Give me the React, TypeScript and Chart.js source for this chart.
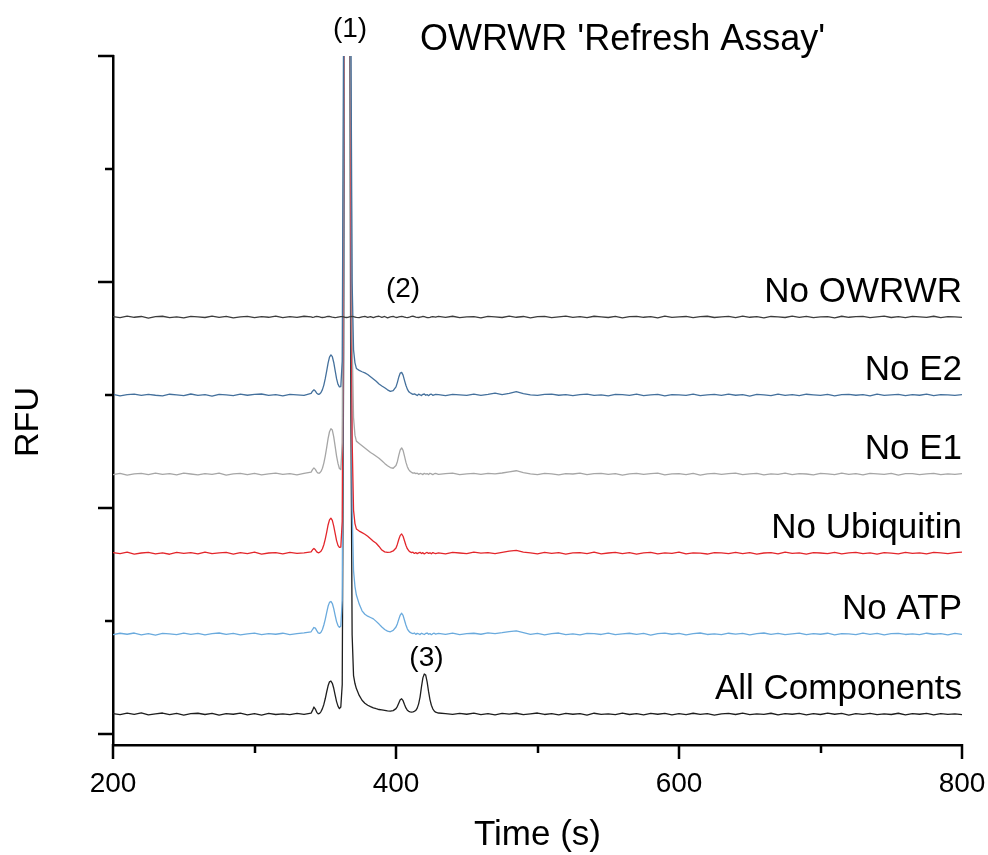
import React, { useEffect, useRef } from "react";
import { Chart, registerables } from "chart.js";

Chart.register(...registerables);

// Migration time (s) of each sample point
const TIME = [
  200, 205, 210, 215, 220, 225, 230, 235, 240, 245, 250, 255, 260, 265, 270, 275, 280, 285, 290, 295, 300, 305, 310, 315, 320, 325, 330, 335, 340,
  341, 342, 343, 344, 345, 346, 347, 348, 349, 350, 351, 352, 353, 354, 355, 356, 357, 358, 359, 360, 361, 362, 363, 364, 365, 366, 367, 368, 369, 370, 371, 372,
  374, 376, 378, 380, 382, 384, 386, 388, 390, 392, 394, 396, 398, 400,
  401, 402, 403, 404, 405, 406, 407, 408, 409, 410, 411, 412, 413, 414, 415, 416, 417, 418, 419, 420, 421, 422, 423, 424, 425, 426, 427, 428,
  430, 435, 440, 445, 450, 455, 460, 465, 470, 475, 480, 485, 490, 495, 500, 505, 510, 515, 520, 525, 530, 535, 540, 545, 550, 555, 560, 565, 570, 575,
  580, 585, 590, 595, 600, 605, 610, 615, 620, 625, 630, 635, 640, 645, 650, 655, 660, 665, 670, 675, 680, 685, 690, 695, 700, 705, 710, 715, 720, 725,
  730, 735, 740, 745, 750, 755, 760, 765, 770, 775, 780, 785, 790, 795, 800,
];

// Fluorescence signal of each run (mRFU above its own baseline)
const NO_OWRWR = [
  3, -6, 8, -2, 5, -9, 4, 7, -5, 2, -7, 6, 1, -4, 9, -3, 5, -8, 2, 6, -5, 3, -2, 8, -6, 4, -3, 7, 1,
  -2, 0, 3, 5, 4, 1, -2, -4, -3, 0, 3, 6, 5, 2, -1, -3, -5, -3, 0, 2, 4, 3, 1, -2, -4, -2, 1, 4, 6, 3, 0, -3,
  -5, 2, 6, -3, 4, -6, 3, 7, -2, 5, -7, 2, 6, -4,
  -2, 1, 4, 6, 3, 0, -3, -5, -2, 1, 5, 7, 4, 0, -3, -4, -1, 2, 5, 3, -1, -4, -6, -3, 1, 4, 2, -1,
  5, -3, 7, -6, 2, 4, -8, 6, 1, -4, 8, -2, 5, -7, 3, 6, -5, 2, 9, -3, 4, -6, 7, 1, -4, 5, -8, 3, 6, -2,
  4, -7, 8, -3, 2, 5, -6, 3, 7, -4, 1, 6, -5, 8, -2, 3, -7, 5, 2, -4, 9, -3, 6, -5, 1, 4, -8, 7, -2, 3,
  5, -6, 2, 8, -4, 3, -5, 6, 1, -3, 7, -6, 4, 2, -3,
];

const NO_E2 = [
  5, -7, 3, 8, -4, 6, -2, -8, 7, 2, -5, 9, -3, 4, -9, 6, 1, -6, 8, -2, 5, 9, -4, 3, -7, 6, 2, -3, 14,
  34, 46, 35, 16, 6, 9, 22, 48, 88, 145, 212, 282, 335, 355, 340, 288, 215, 145, 95, 72, 75, 300, 3400, 9200, 12000, 11800, 9000, 3500, 1000, 400, 285, 235,
  218, 206, 196, 182, 162, 142, 122, 98, 80, 64, 46, 32, 38, 72,
  112, 160, 194, 200, 176, 130, 86, 52, 30, 20, 12, 6, 10, 3, -4, 7, 2, -5, 6, 9, -2, 4, -6, 5, 8, -3, 2, 6,
  3, -5, 6, 2, -3, 8, -4, 5, 16, 4, 14, 30, 12, 2, -4, 5, 7, -2, 3, -6, 4, 8, -3, 2, -7, 5, 3, -4, 7, -5,
  2, 6, -8, 4, 1, -3, 8, -6, 2, 5, -4, 7, -2, 3, -9, 6, 2, -5, 8, -3, 4, -6, 7, 1, -4, 5, -8, 3, 6, -2,
  4, -7, 8, -3, 2, 6, -5, 3, -2, 7, -6, 4, 2, -4, 3,
];

const NO_E1 = [
  -4, 6, -8, 3, 7, -5, 9, -2, 4, -7, 8, 1, -6, 5, -3, 9, -8, 2, 6, -4, 7, -6, 3, 8, -3, 5, -7, 6, 18,
  40, 55, 42, 20, 8, 10, 24, 52, 98, 160, 235, 315, 375, 402, 390, 330, 245, 160, 95, 50, 40, 280, 3300, 9100, 12000, 11700, 8900, 3600, 1200, 500, 345, 292,
  272, 252, 232, 212, 192, 176, 158, 140, 118, 95, 74, 58, 52, 76,
  112, 168, 215, 232, 210, 160, 106, 66, 40, 24, 16, 9, 12, 5, 8, -2, 6, 3, -4, 7, 1, 5, -3, 8, 2, -5, 4, 6,
  -2, 5, 8, -4, 3, 6, -3, 7, 2, 10, 20, 30, 14, 2, -4, 6, 3, -7, 5, 1, 8, -5, 4, 7, -3, 5, -8, 3, 6, -2,
  4, 9, -6, 2, 5, -4, 7, -8, 3, 6, -3, 4, 9, -5, 2, 7, -6, 3, -2, 8, -4, 5, 1, -7, 6, 3, -5, 8, -2, 4,
  -6, 7, 2, -3, 6, -8, 4, 5, -4, 2, 7, -5, 3, -2, 4,
];

const NO_UBIQUITIN = [
  6, -3, 9, -7, 2, 8, -5, 4, -9, 7, -2, 5, -6, 10, -4, 3, 8, -7, 5, -3, 9, -8, 2, 6, -5, 7, -2, 4, 12,
  30, 42, 30, 12, 4, 8, 18, 40, 75, 125, 185, 250, 295, 310, 290, 240, 175, 112, 70, 52, 55, 280, 3300, 9100, 12000, 11600, 8800, 3400, 1000, 380, 262, 215,
  196, 182, 168, 150, 128, 106, 88, 60, 28, 12, 8, 10, 20, 46,
  80, 124, 158, 170, 150, 110, 70, 40, 22, 12, 5, 9, -2, 6, -4, 3, 8, -3, 5, -6, 2, 7, -1, 4, -5, 6, 1, -3,
  4, -6, 7, 2, -4, 9, 1, 5, -3, 8, 18, 26, 10, 4, -5, 7, -2, 5, -8, 3, 6, -4, 9, -6, 2, 7, -3, 5, -7, 4,
  8, -5, 3, -2, 9, -6, 4, 1, -7, 6, 3, -4, 8, -3, 5, -7, 2, 6, -5, 9, -2, 4, -8, 6, 2, -4, 7, -6, 3, 8,
  -3, 4, -7, 6, 1, -5, 8, -2, 4, -6, 7, 3, -4, 6, 9,
];

const NO_ATP = [
  -5, 7, -2, 9, -7, 4, -9, 6, 1, -6, 8, -3, 5, -8, 3, 9, -4, 6, -7, 2, 8, -5, 4, -2, 7, -6, 3, 10, 20,
  40, 58, 52, 30, 10, 5, 15, 40, 80, 130, 190, 245, 280, 288, 270, 225, 165, 110, 75, 60, 70, 300, 3400, 9200, 12000, 11800, 9000, 3600, 1100, 560, 420, 345,
  265, 205, 175, 158, 146, 134, 112, 88, 62, 40, 26, 20, 32, 62,
  92, 132, 168, 184, 165, 122, 80, 46, 26, 14, 8, 4, 9, -3, 6, 2, -5, 7, 1, -4, 5, 9, -2, 4, -6, 3, 7, -1,
  5, -4, 8, -6, 3, 7, -2, 10, 4, 12, 22, 28, 12, -3, 6, -7, 4, 9, -5, 2, -8, 6, 3, -4, 8, -6, 2, 7, -3, 5,
  -9, 4, 8, -2, 6, -7, 3, 9, -4, 2, -6, 7, -1, 5, -8, 4, 9, -3, 6, -5, 2, 8, -6, 3, -2, 7, -7, 4, 1, -5,
  8, -3, 5, -8, 3, 6, -4, 2, -6, 7, -2, 4, -7, 5, -3,
];

const ALL_COMPONENTS = [
  4, -6, 8, -3, 10, -8, 2, 9, -5, 6, -9, 3, 7, -4, 5, -10, 4, -2, 8, -7, 3, -9, 6, -4, 2, -6, 5, -3, 8,
  32, 62, 44, 15, 2, 6, 22, 48, 85, 135, 195, 250, 285, 292, 272, 228, 168, 110, 70, 48, 62, 260, 3200, 9000, 12000, 11500, 8500, 3000, 700, 340, 270, 225,
  165, 122, 96, 78, 66, 55, 47, 40, 36, 32, 28, 26, 30, 48,
  68, 98, 126, 135, 118, 84, 54, 34, 24, 20, 17, 20, 24, 32, 52, 90, 150, 240, 320, 354, 345, 285, 200, 128, 78, 46, 27, 16,
  9, 4, -3, 6, -2, 8, -5, 3, -7, 5, -1, 7, -6, 2, 9, -4, 3, -8, 6, -2, 4, -9, 7, -3, 2, -6, 8, -4, 3, -7,
  5, -2, 6, -8, 3, -5, 7, -3, 4, -9, 2, 6, -4, 8, -6, 1, -3, 7, -8, 4, -2, 6, -7, 3, -4, 8, -2, 5, -9, 4,
  -3, 6, -6, 2, -4, 7, -8, 3, -2, 5, -7, 4, -3, 2, -5,
];

const TRACES = [NO_OWRWR, NO_E2, NO_E1, NO_UBIQUITIN, NO_ATP, ALL_COMPONENTS];
const TRACE_NAMES = ["No OWRWR", "No E2", "No E1", "No Ubiquitin", "No ATP", "All Components"];
// Vertical stacking offset of each run (mRFU)
const TRACE_OFFSETS = [3690, 3000, 2300, 1600, 885, 177];

const X_TICK_LABELS = [200, 400, 600, 800];
const PEAK_LABELS = ["(1)", "(2)", "(3)"];
const PEAK_TIMES = [367.5, 405, 421.5];

const CHART_TITLE = "OWRWR 'Refresh Assay'";
const X_TITLE = "Time (s)";
const Y_TITLE = "RFU";

// Styling
const TRACE_COLORS = ["#3c3c3c", "#44709c", "#a6a6a6", "#e3262b", "#6aaadd", "#1e1e1e"];
const FONT = "'Liberation Sans', Arial, Helvetica, sans-serif";
const PEAK_LABEL_RFU = [6170, 3870, 600];
const LABEL_LIFT = 135;

const overlayPlugin = {
  id: "overlay",
  afterDraw(chart: any) {
    const { ctx } = chart;
    const xs = chart.scales.x;
    const ys = chart.scales.y;
    const area = chart.chartArea;
    ctx.save();

    // tick marks: long at labelled values, short in between
    ctx.strokeStyle = "#000";
    ctx.lineWidth = 2.5;
    ctx.lineCap = "butt";
    ctx.beginPath();
    for (let v = 200; v <= 800; v += 100) {
      const px = Math.round(xs.getPixelForValue(v));
      const len = v % 200 === 0 ? 14 : 8;
      ctx.moveTo(px, area.bottom - 1);
      ctx.lineTo(px, area.bottom + len);
    }
    for (let v = 0; v <= 6000; v += 1000) {
      const py = Math.round(ys.getPixelForValue(v));
      const len = v % 2000 === 0 ? 15 : 8;
      ctx.moveTo(area.left + 1, py);
      ctx.lineTo(area.left - len, py);
    }
    ctx.stroke();

    ctx.fillStyle = "#000";
    ctx.textBaseline = "alphabetic";

    // chart title
    ctx.font = `36px ${FONT}`;
    ctx.textAlign = "left";
    ctx.fillText(CHART_TITLE, 420, 50);

    // run names, right-aligned above each trace
    ctx.font = `35px ${FONT}`;
    ctx.textAlign = "right";
    TRACE_NAMES.forEach((name, i) => {
      ctx.fillText(name, area.right, ys.getPixelForValue(TRACE_OFFSETS[i] + LABEL_LIFT));
    });

    // peak markers
    ctx.font = `28px ${FONT}`;
    ctx.textAlign = "center";
    PEAK_LABELS.forEach((txt, i) => {
      ctx.fillText(txt, xs.getPixelForValue(PEAK_TIMES[i]), ys.getPixelForValue(PEAK_LABEL_RFU[i]));
    });

    // axis titles
    ctx.font = `35px ${FONT}`;
    ctx.textAlign = "center";
    ctx.fillText(X_TITLE, (area.left + area.right) / 2, 845);
    ctx.save();
    ctx.translate(38, 422);
    ctx.rotate(-Math.PI / 2);
    ctx.font = `34px ${FONT}`;
    ctx.fillText(Y_TITLE, 0, 0);
    ctx.restore();

    ctx.restore();
  },
};

export default function App() {
  const canvasRef = useRef<HTMLCanvasElement | null>(null);

  useEffect(() => {
    const canvas = canvasRef.current;
    if (!canvas) return;
    const chart = new Chart(canvas, {
      type: "line",
      data: {
        datasets: TRACES.map((vals, i) => ({
          label: TRACE_NAMES[i],
          data: TIME.map((t, j) => ({ x: t, y: vals[j] + TRACE_OFFSETS[i] })),
          borderColor: TRACE_COLORS[i],
          backgroundColor: TRACE_COLORS[i],
          borderWidth: 1.3,
          borderJoinStyle: "round" as const,
          pointRadius: 0,
          tension: 0,
          fill: false,
        })),
      },
      options: {
        animation: false,
        responsive: false,
        devicePixelRatio: 1,
        layout: { padding: { top: 56, right: 26, left: 0, bottom: 0 } },
        plugins: {
          legend: { display: false },
          title: { display: false },
          tooltip: { enabled: false },
        },
        scales: {
          x: {
            type: "linear",
            min: 200,
            max: 800,
            afterBuildTicks: (s: any) => {
              s.ticks = X_TICK_LABELS.map((v) => ({ value: v }));
            },
            afterFit: (s: any) => {
              s.height = 110;
              s.paddingLeft = 0;
              s.paddingRight = 0;
            },
            grid: { display: false },
            border: { display: true, color: "#000", width: 2.5 },
            ticks: {
              color: "#000",
              font: { family: FONT, size: 28 },
              padding: 14,
              maxRotation: 0,
              autoSkip: false,
            },
          },
          y: {
            type: "linear",
            min: -97,
            max: 6000,
            afterFit: (s: any) => {
              s.width = 113;
            },
            grid: { display: false },
            border: { display: true, color: "#000", width: 2.5 },
            ticks: { display: false },
          },
        },
      },
      plugins: [overlayPlugin],
    });
    return () => chart.destroy();
  }, []);

  return (
    <div style={{ position: "absolute", left: 0, top: 0, width: 988, height: 855, background: "#fff" }}>
      <canvas ref={canvasRef} width={988} height={855} style={{ display: "block" }} />
    </div>
  );
}
